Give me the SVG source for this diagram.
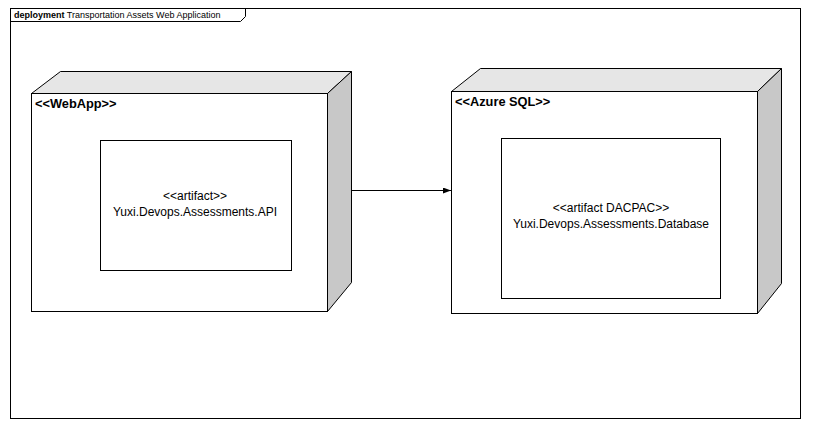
<svg xmlns="http://www.w3.org/2000/svg" width="823" height="434" viewBox="0 0 823 434">
<style>
.ln{stroke:#000;stroke-width:1;fill:none}
.front{fill:#fff;stroke:#000;stroke-width:1}
.top{fill:#e6e6e6;stroke:#000;stroke-width:1}
.side{fill:#c8c8c8;stroke:#000;stroke-width:1}
.art{fill:#fff;stroke:#000;stroke-width:1}
.st{font-family:"Liberation Sans",Arial,sans-serif;font-size:12.8px;font-weight:bold;fill:#000}
.at{font-family:"Liberation Sans",Arial,sans-serif;font-size:12px;fill:#000;text-anchor:middle}
.ft{font-family:"Liberation Sans",Arial,sans-serif;font-size:9px;fill:#000}
</style>
<defs>
<marker id="ah" markerWidth="8" markerHeight="6" refX="8" refY="3" orient="auto" markerUnits="userSpaceOnUse">
<path d="M0,0 L8,3 L0,6 Z" fill="#000"/>
</marker>
</defs>
<rect x="0" y="0" width="823" height="434" fill="#fff"/>
<g id="frame">
<rect x="10.5" y="8.5" width="790" height="410" class="ln"/>
<path d="M10.5,21.5 L240.5,21.5 L245.5,16.5 L245.5,8.5" class="ln"/>
<text x="14" y="18" class="ft"><tspan font-weight="bold">deployment</tspan> Transportation Assets Web Application</text>
</g>
<g id="webapp">
<polygon points="31.5,93.5 60.5,71.5 351.5,71.5 327.5,93.5" class="top"/>
<polygon points="327.5,93.5 351.5,71.5 351.5,282.5 327.5,311.5" class="side"/>
<rect x="31.5" y="93.5" width="296" height="218" class="front"/>
<text x="35" y="108" class="st">&lt;&lt;WebApp&gt;&gt;</text>
<g id="api">
<rect x="100.5" y="140.5" width="191" height="130" class="art"/>
<text x="195" y="200" class="at">&lt;&lt;artifact&gt;&gt;</text>
<text x="195" y="216" class="at">Yuxi.Devops.Assessments.API</text>
</g>
</g>
<g id="azuresql">
<polygon points="451.5,91.5 480.5,68.5 781.5,68.5 757.5,91.5" class="top"/>
<polygon points="757.5,91.5 781.5,68.5 781.5,283.5 757.5,313.5" class="side"/>
<rect x="451.5" y="91.5" width="306" height="222" class="front"/>
<text x="455" y="106" class="st">&lt;&lt;Azure SQL&gt;&gt;</text>
<g id="database">
<rect x="501.5" y="138.5" width="219" height="160" class="art"/>
<text x="611" y="212" class="at">&lt;&lt;artifact DACPAC&gt;&gt;</text>
<text x="611" y="228" class="at">Yuxi.Devops.Assessments.Database</text>
</g>
</g>
<g id="connectors">
<line x1="352" y1="190.5" x2="451" y2="190.5" class="ln" marker-end="url(#ah)"/>
</g>
</svg>
